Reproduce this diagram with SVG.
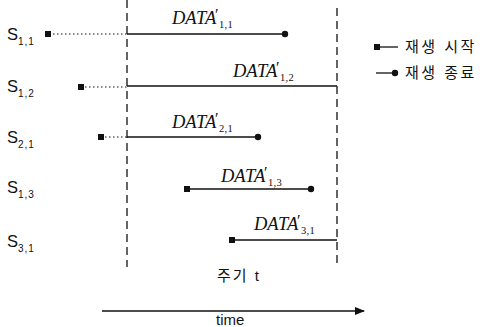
<svg xmlns="http://www.w3.org/2000/svg" width="491" height="327" viewBox="0 0 491 327">
<style>
.lbl{font-family:"Liberation Sans",Arial,sans-serif;font-size:16.5px;fill:#111}
.sub{font-size:10px;letter-spacing:1px}
.dat{font-family:"Liberation Serif","Times New Roman",serif;font-style:italic;font-size:18.5px;fill:#111}
.pr{font-size:16px}
.dsub{font-style:normal;font-size:10.5px;letter-spacing:0.3px}
.kr{font-family:"Liberation Sans","Noto Sans CJK KR",sans-serif;font-size:15px;fill:#111;letter-spacing:2.5px}
.solid{stroke:#111;stroke-width:1.3;fill:none}
.dot{stroke:#111;stroke-width:1.2;stroke-dasharray:1.5 2.5;fill:none}
.dash{stroke:#111;stroke-width:1.3;stroke-dasharray:8 5;fill:none}
.sq{fill:#111}
</style>
<defs>
<marker id="arr" markerWidth="10" markerHeight="8" refX="9" refY="4" orient="auto" markerUnits="userSpaceOnUse">
<path d="M0,0 L10,4 L0,8 Z" fill="#111"/>
</marker>
</defs>
<g id="period-lines">
<line class="dash" x1="127" y1="0" x2="127" y2="267"/>
<line class="dash" x1="337" y1="8" x2="337" y2="266"/>
</g>
<g id="connectors">
<line class="dot" x1="49" y1="34" x2="127" y2="34"/>
<line class="solid" x1="127" y1="34" x2="285" y2="34"/>
<line class="dot" x1="81" y1="87" x2="127" y2="87"/>
<line class="solid" x1="127" y1="86" x2="337" y2="86"/>
<line class="dot" x1="101" y1="137" x2="127" y2="137"/>
<line class="solid" x1="127" y1="137" x2="258" y2="137"/>
<line class="solid" x1="187" y1="189" x2="311" y2="189"/>
<line class="solid" x1="232" y1="240" x2="337" y2="240" stroke-width="1"/>
<line class="solid" x1="102" y1="311" x2="364" y2="311" marker-end="url(#arr)"/>
</g>
<g id="s11">
<text class="lbl" x="7" y="40">S<tspan class="sub" dy="5">1,1</tspan></text>
<rect class="sq" x="45" y="31" width="6" height="6"/>
<circle class="sq" cx="285" cy="34" r="3.2"/>
<text class="dat" x="172" y="24">DATA<tspan class="pr" x="214" y="20">′</tspan><tspan class="dsub" x="219" y="28">1,1</tspan></text>
</g>
<g id="s12">
<text class="lbl" x="7" y="92">S<tspan class="sub" dy="5">1,2</tspan></text>
<rect class="sq" x="78" y="84" width="6" height="6"/>
<text class="dat" x="233" y="77">DATA<tspan class="pr" x="275" y="73">′</tspan><tspan class="dsub" x="280" y="81">1,2</tspan></text>
</g>
<g id="s21">
<text class="lbl" x="7" y="143">S<tspan class="sub" dy="5">2,1</tspan></text>
<rect class="sq" x="98" y="134" width="6" height="6"/>
<circle class="sq" cx="258" cy="137" r="3.2"/>
<text class="dat" x="172" y="128">DATA<tspan class="pr" x="214" y="124">′</tspan><tspan class="dsub" x="219" y="132">2,1</tspan></text>
</g>
<g id="s13">
<text class="lbl" x="7" y="193">S<tspan class="sub" dy="5">1,3</tspan></text>
<rect class="sq" x="184" y="186" width="6" height="6"/>
<circle class="sq" cx="311" cy="189" r="3.2"/>
<text class="dat" x="221" y="182">DATA<tspan class="pr" x="263" y="178">′</tspan><tspan class="dsub" x="268" y="186">1,3</tspan></text>
</g>
<g id="s31">
<text class="lbl" x="7" y="247">S<tspan class="sub" dy="5">3,1</tspan></text>
<rect class="sq" x="229" y="237" width="6" height="6"/>
<text class="dat" x="254" y="230">DATA<tspan class="pr" x="296" y="226">′</tspan><tspan class="dsub" x="301" y="234">3,1</tspan></text>
</g>
<g id="legend">
<rect class="sq" x="374" y="44" width="6" height="6"/>
<line class="solid" x1="377" y1="47" x2="398" y2="47"/>
<text class="kr" x="405" y="52">재생 시작</text>
<line class="solid" x1="376" y1="73" x2="394" y2="73"/>
<circle class="sq" cx="395" cy="73" r="3.2"/>
<text class="kr" x="405" y="78">재생 종료</text>
</g>
<g id="period-label">
<text class="kr" x="217" y="281" style="letter-spacing:2px">주기 t</text>
</g>
<g id="time-label">
<text class="lbl" x="216" y="325" style="font-size:15px">time</text>
</g>
</svg>
